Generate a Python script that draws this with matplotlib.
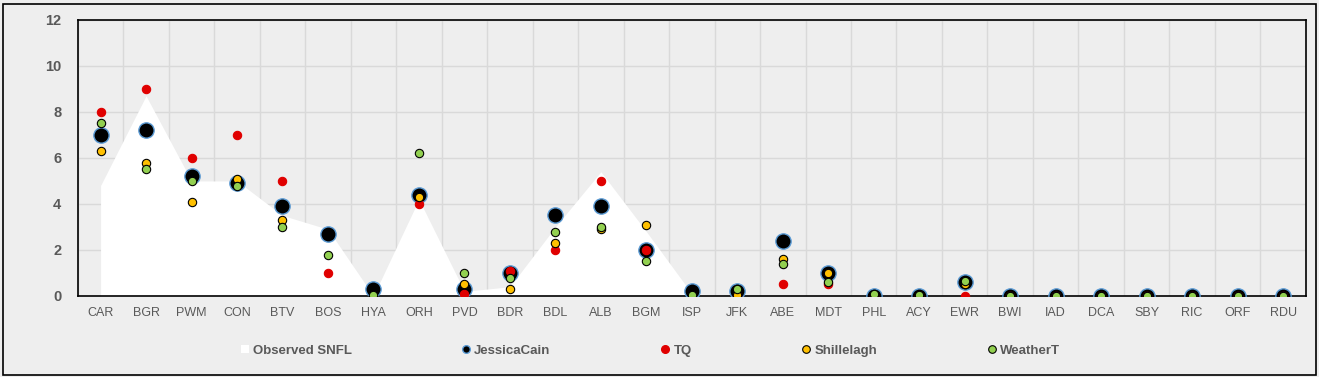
import matplotlib.pyplot as plt
from matplotlib.lines import Line2D
from matplotlib.patches import Patch
import numpy as np

plt.rcParams['font.family'] = ['Liberation Sans', 'DejaVu Sans']

stations = ["CAR", "BGR", "PWM", "CON", "BTV", "BOS", "HYA", "ORH", "PVD", "BDR",
            "BDL", "ALB", "BGM", "ISP", "JFK", "ABE", "MDT", "PHL", "ACY", "EWR",
            "BWI", "IAD", "DCA", "SBY", "RIC", "ORF", "RDU"]

nan = np.nan
observed = [4.8, 8.7, 5.0, 5.0, 3.5, 2.9, 0.0, 4.2, 0.2, 0.4,
            3.0, 5.4, 2.8, 0.1, 0.0, 0.0, 0.0, 0.0, 0.0, 0.0,
            0.0, 0.0, 0.0, 0.0, 0.0, 0.0, 0.0]
jessica = [7.0, 7.2, 5.2, 4.9, 3.9, 2.7, 0.3, 4.4, 0.3, 1.0,
           3.5, 3.9, 2.0, 0.2, 0.2, 2.4, 1.0, 0.0, 0.0, 0.6,
           0.0, 0.0, 0.0, 0.0, 0.0, 0.0, 0.0]
tq = [8.0, 9.0, 6.0, 7.0, 5.0, 1.0, nan, 4.0, 0.1, 1.1,
      2.0, 5.0, 2.0, nan, 0.0, 0.5, 0.5, 0.0, 0.0, 0.0,
      0.0, 0.0, 0.0, 0.0, 0.0, 0.0, 0.0]
shillelagh = [6.3, 5.8, 4.1, 5.1, 3.3, nan, nan, 4.3, 0.5, 0.3,
              2.3, 2.9, 3.1, nan, 0.05, 1.6, 1.0, 0.0, 0.0, 0.5,
              0.0, 0.0, 0.0, 0.0, 0.0, 0.0, 0.0]
weathert = [7.5, 5.5, 5.0, 4.8, 3.0, 1.8, 0.05, 6.2, 1.0, 0.8,
            2.8, 3.0, 1.5, 0.05, 0.3, 1.4, 0.6, 0.1, 0.05, 0.65,
            0.0, 0.0, 0.0, 0.0, 0.0, 0.0, 0.0]

bg = "#EEEEEE"
x = np.arange(len(stations))

fig = plt.figure(figsize=(13.19, 3.77), dpi=100, facecolor=bg)
ax = fig.add_axes([0.059, 0.215, 0.931, 0.732])
ax.set_facecolor(bg)

ax.fill_between(x, observed, color="white", lw=0, zorder=2)
ax.plot(x, jessica, "o", ms=11, mfc="black", mec="#5B9BD5", mew=1, zorder=3)
ax.plot(x, tq, "o", ms=6, mfc="#E00000", mec="#E00000", mew=0.8, zorder=4)
ax.plot(x, shillelagh, "o", ms=6, mfc="#FFC000", mec="black", mew=0.8, zorder=5)
ax.plot(x, weathert, "o", ms=6, mfc="#92D050", mec="black", mew=0.8, zorder=6)

ax.set_xlim(-0.5, len(stations) - 0.5)
ax.set_ylim(0, 12)
ax.set_yticks(np.arange(0, 13, 2))
ax.set_xticks(x)
ax.set_xticklabels(stations)
ax.set_xticks(np.arange(-0.5, len(stations), 1), minor=True)
ax.grid(False)
ax.yaxis.grid(True, color="#D9D9D9", lw=1, zorder=0)
ax.xaxis.grid(True, which="minor", color="#D9D9D9", lw=1, zorder=0)
ax.set_axisbelow(True)
ax.tick_params(axis="both", which="both", length=0)
ax.tick_params(axis="x", pad=8, labelsize=9, labelcolor="#595959")
ax.tick_params(axis="y", pad=12, labelsize=10.5, labelcolor="#595959")
for t in ax.get_yticklabels():
    t.set_fontweight("bold")
for s in ax.spines.values():
    s.set_color("black")
    s.set_linewidth(1.2)

handles = [
    Patch(fc="white", ec="none"),
    Line2D([], [], ls="none", marker="o", ms=5.5, mfc="black", mec="#5B9BD5", mew=1),
    Line2D([], [], ls="none", marker="o", ms=5.5, mfc="#E00000", mec="#E00000"),
    Line2D([], [], ls="none", marker="o", ms=5.5, mfc="#FFC000", mec="black", mew=0.8),
    Line2D([], [], ls="none", marker="o", ms=5.5, mfc="#92D050", mec="black", mew=0.8),
]
labels = ["Observed SNFL", "JessicaCain", "TQ", "Shillelagh", "WeatherT"]
leg = fig.legend(handles, labels, loc="center", bbox_to_anchor=(0.493, 0.07), ncol=5,
                 frameon=False, handlelength=0.6, handleheight=0.6, handletextpad=0.3,
                 columnspacing=8.4, prop={"weight": "bold", "size": 9.5})
for t in leg.get_texts():
    t.set_color("#595959")

fig.patches.append(plt.Rectangle((0.002, 0.005), 0.996, 0.985, transform=fig.transFigure,
                                 fill=False, ec="black", lw=1.2))

fig.savefig("out.png", dpi=100, facecolor=bg)
